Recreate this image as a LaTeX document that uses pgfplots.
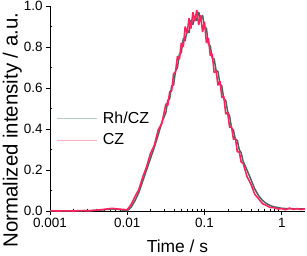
\documentclass[border=0pt]{standalone}
\usepackage{pgfplots}
\pgfplotsset{compat=1.18}
\usepackage{fontspec}
\setmainfont{Liberation Sans}
\definecolor{rhcz}{RGB}{80,98,98}
\definecolor{cz}{RGB}{255,35,95}
\definecolor{rhczlight}{RGB}{185,205,200}
\definecolor{czlight}{RGB}{255,175,195}
\begin{document}
\begin{tikzpicture}
\useasboundingbox (-50bp,-45bp) rectangle (257bp,211bp);
\begin{axis}[
  scale only axis,
  width=255bp, height=205bp,
  xmode=log,
  xmin=0.001, xmax=2,
  ymin=0, ymax=1.0,
  axis lines*=left,
  axis line style={line width=0.6pt, black},
  xtick={0.001,0.01,0.1,1},
  xticklabels={0.001,0.01,0.1,1},
  ytick={0,0.2,0.4,0.6,0.8,1.0},
  yticklabels={0.0,0.2,0.4,0.6,0.8,1.0},
  minor ytick={0.1,0.3,0.5,0.7,0.9},
  tick align=outside,
  major tick length=4bp,
  minor tick length=-2.5bp,
  tick style={black, line width=0.5pt},
  tick label style={font=\fontsize{13.5}{13.5}\selectfont},
  /pgf/number format/assume math mode=true,
  xlabel={Time / s},
  ylabel={Normalized intensity / a.u.},
  xlabel style={font=\fontsize{17.5}{17.5}\selectfont, yshift=-5bp},
  ylabel style={font=\fontsize{20.5}{20.5}\selectfont,
    at={(axis description cs:-0.148,0.395)}, anchor=center},
  clip=false,
  legend cell align=left,
  legend style={draw=none, fill=none, at={(0.02,0.50)}, anchor=north west,
    font=\fontsize{16}{16}\selectfont, row sep=5bp, inner sep=1bp,
    /tikz/every odd column/.append style={column sep=4bp}},
  legend image code/.code={\draw[#1] (0bp,0bp) -- (40bp,0bp);},
]
\addlegendimage{rhczlight, line width=0.7pt}
\addlegendentry{Rh/CZ}
\addlegendimage{czlight, line width=0.7pt}
\addlegendentry{CZ}
% Rh/CZ
\addplot[forget plot, rhcz, line width=1.5pt, line join=bevel] coordinates {
(0.001,0.000) (0.00126,0.001) (0.00158,0.000) (0.002,0.001) (0.00251,0.001)
(0.00316,0.002) (0.00398,0.003) (0.00501,0.006) (0.00631,0.010) (0.00794,0.007)
(0.01,0.001) (0.01122,0.018) (0.01259,0.050) (0.01413,0.090) (0.01585,0.145)
(0.01778,0.200) (0.01995,0.255) (0.02239,0.310) (0.02512,0.370) (0.02818,0.435)
(0.03162,0.479) (0.03350,0.540) (0.03548,0.548) (0.03758,0.610) (0.03981,0.615)
(0.04217,0.683) (0.04467,0.700) (0.04732,0.765) (0.05012,0.773) (0.05309,0.841)
(0.05623,0.829) (0.05957,0.885) (0.0631,0.869) (0.06683,0.931) (0.07079,0.909)
(0.07499,0.948) (0.07943,0.929) (0.08414,0.971) (0.08913,0.932) (0.09441,0.956)
(0.1,0.894) (0.1059,0.892) (0.1122,0.814) (0.1189,0.805) (0.1259,0.745)
(0.1334,0.742) (0.1413,0.686) (0.1496,0.680) (0.1585,0.620) (0.1679,0.609)
(0.1778,0.545) (0.1884,0.540) (0.1995,0.485) (0.2113,0.464) (0.2239,0.404)
(0.2371,0.394) (0.2512,0.349) (0.2661,0.344) (0.2818,0.299) (0.2985,0.284)
(0.3162,0.243) (0.3548,0.200) (0.3981,0.155) (0.4467,0.108) (0.5012,0.075)
(0.5623,0.052) (0.631,0.037) (0.7079,0.027) (0.7943,0.020) (0.8913,0.017)
(1.0,0.013) (1.122,0.012) (1.259,0.011) (1.413,0.011) (1.585,0.010)
(1.778,0.010) (1.995,0.010)
};
% CZ
\addplot[forget plot, cz, line width=1.6pt, line join=bevel] coordinates {
(0.001,0.001) (0.00126,0.000) (0.00158,0.001) (0.002,0.000) (0.00251,0.002)
(0.00316,0.001) (0.00398,0.004) (0.00501,0.008) (0.00631,0.013) (0.00794,0.009)
(0.01,0.006) (0.01122,0.032) (0.01259,0.070) (0.01413,0.105) (0.01585,0.165)
(0.01778,0.215) (0.01995,0.280) (0.02239,0.320) (0.02512,0.395) (0.02818,0.430)
(0.03162,0.523) (0.03350,0.515) (0.03548,0.583) (0.03758,0.585) (0.03981,0.670)
(0.04217,0.678) (0.04467,0.755) (0.04732,0.740) (0.05012,0.820) (0.05309,0.800)
(0.05623,0.900) (0.05957,0.866) (0.0631,0.940) (0.06683,0.890) (0.07079,0.970)
(0.07499,0.926) (0.07943,0.980) (0.08414,0.907) (0.08913,0.955) (0.09441,0.873)
(0.1,0.923) (0.1059,0.820) (0.1122,0.843) (0.1189,0.758) (0.1259,0.766)
(0.1334,0.675) (0.1413,0.683) (0.1496,0.613) (0.1585,0.633) (0.1679,0.554)
(0.1778,0.558) (0.1884,0.473) (0.1995,0.480) (0.2113,0.408) (0.2239,0.410)
(0.2371,0.349) (0.2512,0.355) (0.2661,0.288) (0.2818,0.290) (0.2985,0.238)
(0.3162,0.233) (0.3548,0.168) (0.3981,0.132) (0.4467,0.082) (0.5012,0.060)
(0.5623,0.036) (0.631,0.027) (0.7079,0.017) (0.7943,0.016) (0.8913,0.010)
(1.0,0.012) (1.122,0.006) (1.259,0.014) (1.413,0.008) (1.585,0.012)
(1.778,0.007) (1.995,0.011)
};
\end{axis}
\end{tikzpicture}
\end{document}
